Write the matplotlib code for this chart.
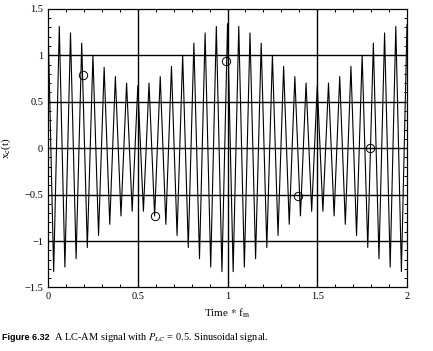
import numpy as np
import matplotlib
matplotlib.use("Agg")
import matplotlib.pyplot as plt
from matplotlib.ticker import MultipleLocator

# Positive peaks of the waveform, one per carrier cycle, t = 0 .. 2
pos_peaks = [1.33, 1.31, 1.24, 1.13, 1.00, 0.87, 0.77, 0.70, 0.67, 0.70, 0.77, 0.88, 1.00, 1.13, 1.24, 1.31,
             1.34, 1.31, 1.24, 1.13, 1.00, 0.88, 0.77, 0.70, 0.67, 0.70, 0.77, 0.88, 1.00, 1.13, 1.24, 1.31,
             1.33]
# Negative troughs, half a carrier cycle after each positive peak
neg_peaks = [-1.33, -1.28, -1.19, -1.07, -0.94, -0.82, -0.73, -0.68, -0.68, -0.73, -0.82, -0.94, -1.07, -1.19, -1.28, -1.33,
             -1.33, -1.28, -1.19, -1.07, -0.94, -0.82, -0.73, -0.68, -0.68, -0.73, -0.82, -0.94, -1.07, -1.19, -1.28, -1.33]
cycles_per_unit = 16
t_end = 2.0

# Marker points on the curve
marker_t = [0.197, 0.594, 0.991, 1.395, 1.792]
marker_v = [0.79, -0.73, 0.94, -0.52, 0.0]

xticks = [0, 0.5, 1, 1.5, 2]
xticklabels = ["0", "0.5", "1", "1.5", "2"]
yticks = [-1.5, -1, -0.5, 0, 0.5, 1, 1.5]
yticklabels = ["\u22121.5", "\u22121", "\u22120.5", "0", "0.5", "1", "1.5"]

# Build interleaved waveform
n_pos = len(pos_peaks)
t_pos = np.linspace(0, t_end, n_pos)
t_neg = t_pos[:-1] + 0.5 / cycles_per_unit
t = np.empty(n_pos + len(neg_peaks))
v = np.empty_like(t)
t[0::2] = t_pos
t[1::2] = t_neg
v[0::2] = pos_peaks
v[1::2] = neg_peaks

plt.rcParams['font.family'] = ['Liberation Serif', 'DejaVu Serif']
plt.rcParams['mathtext.fontset'] = 'stix'

fig = plt.figure(figsize=(4.33, 3.51), dpi=100)
ax = fig.add_axes([0.111, 0.181, 0.829, 0.794])

for yv in yticks[1:-1]:
    ax.axhline(yv, color='black', lw=1.0, zorder=1)
for xv in xticks[1:-1]:
    ax.axvline(xv, color='black', lw=1.0, zorder=1)

ax.plot(t, v, color='black', lw=0.8, zorder=2)
ax.plot(marker_t, marker_v, 'o', mfc='none', mec='black', ms=6, mew=0.7, zorder=3)

ax.set_xlim(0, 2)
ax.set_ylim(-1.5, 1.5)
ax.set_xticks(xticks)
ax.set_xticklabels(xticklabels)
ax.set_yticks(yticks)
ax.set_yticklabels(yticklabels)
ax.xaxis.set_minor_locator(MultipleLocator(0.1))
ax.yaxis.set_minor_locator(MultipleLocator(0.1))
ax.tick_params(which='both', direction='in', top=True, right=True, labelsize=7.5, width=0.7)
ax.tick_params(which='major', length=4)
ax.tick_params(which='minor', length=2.5)
for s in ax.spines.values():
    s.set_linewidth(0.9)

ax.set_xlabel("Time $*$ f$_\\mathrm{m}$", fontsize=8, labelpad=4)
ax.set_ylabel("x$_\\mathrm{c}$(t)", fontsize=8, labelpad=8)

fig.text(0.005, 0.03, "Figure 6.32", fontsize=6.5, fontweight='bold', family=['Liberation Sans', 'DejaVu Sans'],
         va='baseline')
fig.text(0.125, 0.03, "A LC-AM signal with $P_{LC}$ = 0.5. Sinusoidal signal.", fontsize=7.5, va='baseline')

fig.savefig("out.png", dpi=100)
